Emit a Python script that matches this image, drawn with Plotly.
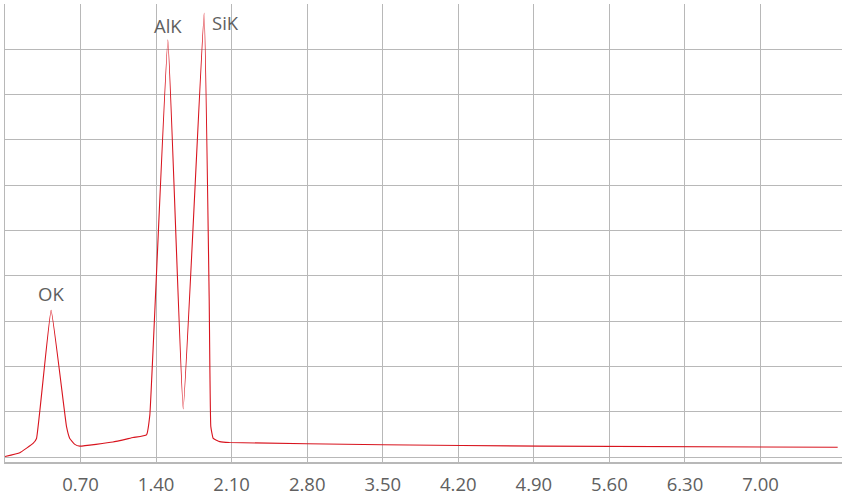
import plotly.graph_objects as go

# Energy (keV) and intensity (arbitrary units)
energy = [0.00, 0.137, 0.26, 0.292, 0.427, 0.57, 0.60, 0.647, 0.693,
          1.00, 1.187, 1.311, 1.342, 1.509, 1.651, 1.845, 1.892, 1.907, 1.929,
          1.99, 2.08, 3.50, 4.956, 7.715]
counts = [0.01, 0.095, 0.30, 0.41, 3.24, 0.67, 0.41, 0.28, 0.24,
          0.33, 0.43, 0.49, 0.93, 9.21, 1.06, 9.80, 3.47, 0.67, 0.41,
          0.34, 0.32, 0.27, 0.24, 0.215]

peak_labels = ["OK", "AlK", "SiK"]
peak_x = [0.427, 1.509, 1.845]
peak_y = [3.24, 9.21, 9.80]

tick_vals = [0.70, 1.40, 2.10, 2.80, 3.50, 4.20, 4.90, 5.60, 6.30, 7.00]
tick_text = ["0.70", "1.40", "2.10", "2.80", "3.50", "4.20", "4.90", "5.60", "6.30", "7.00"]

FONT = "Open Sans"
GRID = "#b8b8b8"
TXT = "#606060"

fig = go.Figure()
fig.add_trace(go.Scatter(
    x=energy, y=counts, mode="lines",
    line=dict(color="#d8141e", width=1.1, shape="spline", smoothing=0.3),
    hoverinfo="x+y", showlegend=False,
))

shifts = [(0, 17, "center"), (0, 14, "center"), (6, -9, "left")]
for lbl, px, py, (xs, ys, xa) in zip(peak_labels, peak_x, peak_y, shifts):
    fig.add_annotation(x=px, y=py, text=lbl, showarrow=False,
                       xshift=xs, yshift=ys, xanchor=xa, yanchor="middle",
                       font=dict(family=FONT, size=18.5, color=TXT))

fig.update_layout(
    width=842, height=495,
    margin=dict(l=5, r=0, t=4, b=33),
    paper_bgcolor="white", plot_bgcolor="white",
    font=dict(family=FONT, size=18.5, color=TXT),
    xaxis=dict(range=[0, 7.755], tickvals=tick_vals, ticktext=tick_text,
               showgrid=True, gridcolor=GRID, gridwidth=1,
               showline=True, linecolor=GRID, linewidth=2,
               ticks="", zeroline=False, ticklabelstandoff=5,
               tickfont=dict(family=FONT, size=18.5, color=TXT)),
    yaxis=dict(range=[-0.11, 10], dtick=1, tick0=0,
               showgrid=True, gridcolor=GRID, gridwidth=1,
               showline=True, linecolor=GRID, linewidth=1,
               showticklabels=False, ticks="", zeroline=False),
)

fig.write_html("out.html", config={"displayModeBar": False},
               post_script="document.body.style.margin='0px';document.body.style.overflow='hidden';")
